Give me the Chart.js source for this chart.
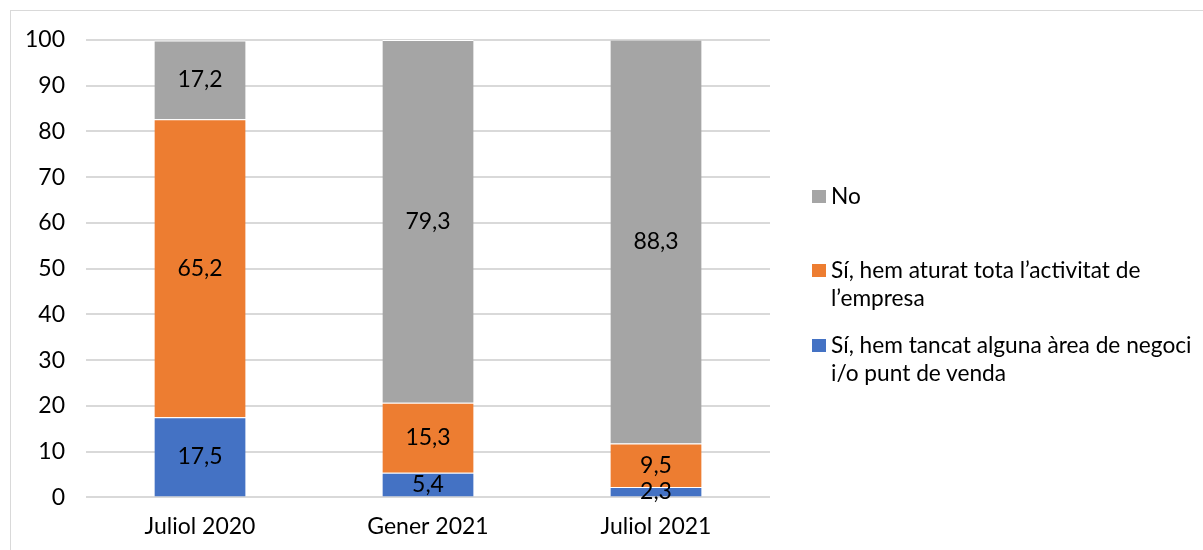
<!DOCTYPE html>
<html><head><meta charset="utf-8">
<script src="https://cdn.jsdelivr.net/npm/chart.js@4/dist/chart.umd.min.js"></script>
<style>
html,body{margin:0;padding:0;background:#fff;}
#wrap{position:relative;width:1203px;height:550px;overflow:hidden;}
#frame{position:absolute;left:10px;top:10px;width:1200px;height:560px;border:1px solid #D9D9D9;box-sizing:border-box;}
canvas{position:absolute;left:0;top:0;}
#legend{position:absolute;left:812px;top:0;font-family:Lato,sans-serif;font-size:22.7px;color:#000;}
.item{position:absolute;left:0;width:390px;line-height:28px;}
.sw{position:absolute;left:0;top:8px;width:14px;height:13px;}
.txt{position:absolute;left:19px;top:0;width:370px;white-space:nowrap;}
</style></head>
<body><div id="wrap"><div id="frame"></div><canvas id="c" width="1203" height="565"></canvas><div id="legend"></div></div>
<script>
const categories = ['Juliol 2020', 'Gener 2021', 'Juliol 2021'];
const tancatValues = [17.5, 5.4, 2.3];
const aturatValues = [65.2, 15.3, 9.5];
const noValues = [17.2, 79.3, 88.3];
const seriesLabels = ['Sí, hem tancat alguna àrea de negoci i/o punt de venda', 'Sí, hem aturat tota l’activitat de l’empresa', 'No'];
const seriesColors = ['#4472C4', '#ED7D31', '#A5A5A5'];
const legendLines = [['Sí, hem tancat alguna àrea de negoci', 'i/o punt de venda'], ['Sí, hem aturat tota l’activitat de', 'l’empresa'], ['No']];
const legendTops = [331, 256, 182];

const font = "Lato, sans-serif";
const FS = 23;
const labelPlugin = {
  id: 'vals',
  afterDatasetsDraw(chart) {
    const ctx = chart.ctx;
    ctx.save();
    ctx.font = FS + 'px ' + font;
    ctx.fillStyle = '#000';
    ctx.textAlign = 'center';
    ctx.textBaseline = 'middle';
    chart.data.datasets.forEach((ds, i) => {
      chart.getDatasetMeta(i).data.forEach((el, j) => {
        const v = ds.data[j];
        const p = el.getProps(['x', 'y', 'base'], true);
        ctx.fillText(v.toFixed(1).replace('.', ','), p.x, (p.y + p.base) / 2);
      });
    });
    ctx.restore();
  }
};

new Chart(document.getElementById('c'), {
  type: 'bar',
  data: {
    labels: categories,
    datasets: [
      { label: seriesLabels[0], data: tancatValues, backgroundColor: seriesColors[0] },
      { label: seriesLabels[1], data: aturatValues, backgroundColor: seriesColors[1] },
      { label: seriesLabels[2], data: noValues, backgroundColor: seriesColors[2] }
    ].map(d => Object.assign(d, { borderColor: '#fff', borderWidth: { top: 1 }, borderSkipped: 'bottom', categoryPercentage: 0.4, barPercentage: 1 }))
  },
  options: {
    responsive: false,
    animation: false,
    layout: { padding: { left: 4, right: 433, top: 40, bottom: 10 } },
    plugins: { legend: { display: false }, tooltip: { enabled: false } },
    scales: {
      x: {
        stacked: true,
        grid: { display: false, drawTicks: false },
        border: { display: false },
        ticks: { font: { family: font, size: FS }, color: '#000', padding: 15 }
      },
      y: {
        stacked: true, min: 0, max: 100,
        grid: { color: '#D9D9D9', lineWidth: 2, drawTicks: false },
        border: { display: false },
        ticks: { stepSize: 10, font: { family: font, size: FS }, color: '#000', padding: 21 }
      }
    }
  },
  plugins: [labelPlugin]
});

const lg = document.getElementById('legend');
[2, 1, 0].forEach(i => {
  const it = document.createElement('div');
  it.className = 'item';
  it.style.top = legendTops[i] + 'px';
  const sw = document.createElement('div');
  sw.className = 'sw';
  sw.style.background = seriesColors[i];
  const t = document.createElement('div');
  t.className = 'txt';
  t.innerHTML = legendLines[i].join('<br>');
  it.appendChild(sw); it.appendChild(t);
  lg.appendChild(it);
});
</script></body></html>
